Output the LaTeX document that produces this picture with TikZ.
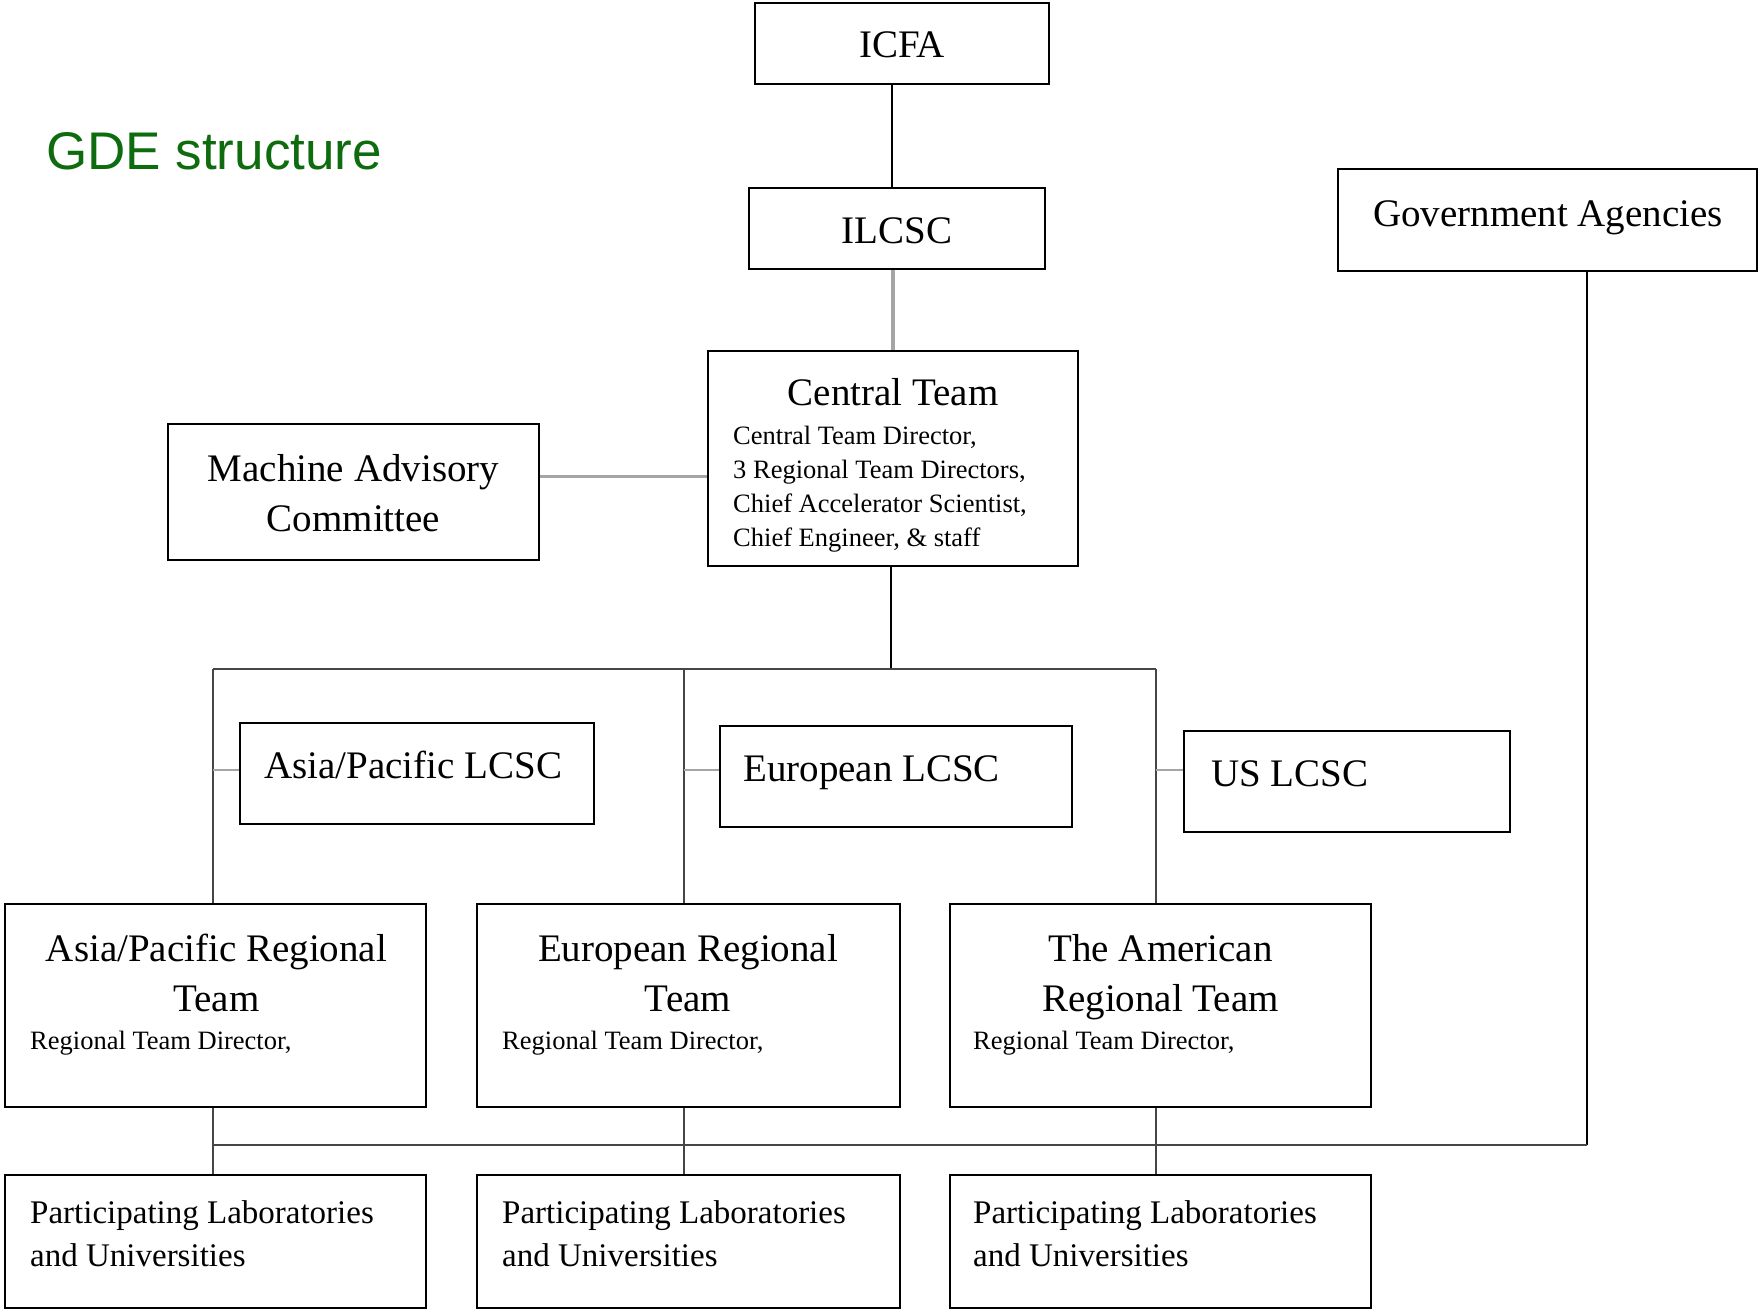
\documentclass[tikz,border=0pt]{standalone}
\usepackage{fontspec}
\setmainfont{Liberation Serif}
\newfontfamily\titlefont{Liberation Sans}
\definecolor{gdegreen}{RGB}{14,108,14}
\definecolor{lightline}{RGB}{165,165,165}
\definecolor{darkline}{RGB}{70,70,70}
\begin{document}
\begin{tikzpicture}[x=1pt,y=-1pt,
  box/.style={draw=black,line width=2pt,rectangle,inner sep=0pt,fill=white},
  bigtxt/.style={inner sep=0pt,font=\fontsize{39}{50}\selectfont},
  smalltxt/.style={inner sep=0pt,font=\fontsize{26.5}{34}\selectfont},
  labtxt/.style={inner sep=0pt,font=\fontsize{33}{43}\selectfont},
  conn/.style={draw=darkline,line width=2pt},
  blackconn/.style={draw=black,line width=2pt},
  gconn/.style={draw=lightline,line width=3.2pt}]
\useasboundingbox (0,0) rectangle (1758,1309);

% title
\node[anchor=base west,inner sep=0pt,text=gdegreen,font=\titlefont\fontsize{53}{60}\selectfont] (title) at (46,169) {GDE structure};

% boxes
\node[box,minimum width=294pt,minimum height=81pt] (icfa) at (902,43.5) {};
\node[box,minimum width=296pt,minimum height=81pt] (ilcsc) at (897,228) {};
\node[box,minimum width=370pt,minimum height=215pt] (ct) at (893,458.5) {};
\node[box,minimum width=371pt,minimum height=136pt] (mac) at (353.5,492) {};
\node[box,minimum width=419pt,minimum height=102pt] (gov) at (1547.5,220) {};

\node[box,minimum width=354pt,minimum height=101pt] (aplcsc) at (417,773) {};
\node[box,minimum width=352pt,minimum height=101pt] (eulcsc) at (896,776) {};
\node[box,minimum width=326pt,minimum height=101pt] (uslcsc) at (1347,781) {};

\node[box,minimum width=421pt,minimum height=203pt] (aprt) at (215.5,1005.5) {};
\node[box,minimum width=423pt,minimum height=203pt] (eurt) at (688,1005.5) {};
\node[box,minimum width=421pt,minimum height=203pt] (amrt) at (1160.5,1005.5) {};

\node[box,minimum width=421pt,minimum height=133pt] (apl) at (215.5,1241) {};
\node[box,minimum width=423pt,minimum height=133pt] (eul) at (688,1241) {};
\node[box,minimum width=421pt,minimum height=133pt] (aml) at (1160.5,1241) {};

% texts
\node[bigtxt,anchor=base] (ticfa) at (902,57) {ICFA};
\node[bigtxt,anchor=base] (tilcsc) at (897,243) {ILCSC};
\node[bigtxt,anchor=base] (tct) at (893,405.5) {Central Team};
\node[smalltxt,anchor=base west] (tct1) at (733,444) {Central Team Director,};
\node[smalltxt,anchor=base west] (tct2) at (733,478) {3 Regional Team Directors,};
\node[smalltxt,anchor=base west] (tct3) at (733,512) {Chief Accelerator Scientist,};
\node[smalltxt,anchor=base west] (tct4) at (733,546) {Chief Engineer, \& staff};
\node[bigtxt,anchor=base] (tmac1) at (353.5,481.5) {Machine Advisory};
\node[bigtxt,anchor=base] (tmac2) at (353.5,531.5) {Committee};
\node[bigtxt,anchor=base] (tgov) at (1548,226) {Government Agencies};

\node[bigtxt,anchor=base west] (tap) at (264,778) {Asia/Pacific LCSC};
\node[bigtxt,anchor=base west] (teu) at (743,781) {European LCSC};
\node[bigtxt,anchor=base west] (tus) at (1211,786) {US LCSC};

\node[bigtxt,anchor=base] (taprt1) at (216.5,961) {Asia/Pacific Regional};
\node[bigtxt,anchor=base] (taprt2) at (216.5,1011) {Team};
\node[smalltxt,anchor=base west] (taprt3) at (30,1049) {Regional Team Director,};
\node[bigtxt,anchor=base] (teurt1) at (688,961) {European Regional};
\node[bigtxt,anchor=base] (teurt2) at (688,1011) {Team};
\node[smalltxt,anchor=base west] (teurt3) at (502,1049) {Regional Team Director,};
\node[bigtxt,anchor=base] (tamrt1) at (1160.5,961) {The American};
\node[bigtxt,anchor=base] (tamrt2) at (1160.5,1011) {Regional Team};
\node[smalltxt,anchor=base west] (tamrt3) at (973,1049) {Regional Team Director,};

\node[labtxt,anchor=base west] (tapl1) at (30,1223.5) {Participating Laboratories};
\node[labtxt,anchor=base west] (tapl2) at (30,1266) {and Universities};
\node[labtxt,anchor=base west] (teul1) at (502,1223.5) {Participating Laboratories};
\node[labtxt,anchor=base west] (teul2) at (502,1266) {and Universities};
\node[labtxt,anchor=base west] (taml1) at (973,1223.5) {Participating Laboratories};
\node[labtxt,anchor=base west] (taml2) at (973,1266) {and Universities};

% helper coordinates
\coordinate (xa) at (892,0);
\coordinate (ymac) at (0,476.5);
\coordinate (xc) at (890.5,0);
\coordinate (b1) at (213,669);
\coordinate (b2) at (684,669);
\coordinate (b3) at (1155.5,669);
\coordinate (ys) at (0,770);
\coordinate (xg) at (1587,0);
\coordinate (l1) at (213,1145);
\coordinate (lg) at (1587,1145);

% connectors
\draw[blackconn] (icfa.south -| xa) -- (ilcsc.north -| xa);
\draw[gconn] (ilcsc.south -| ct.north) -- (ct.north);
\draw[gconn] (mac.east |- ymac) -- (ct.west |- ymac);
\draw[blackconn] (ct.south -| xc) -- (b2 -| xc);
\draw[conn] (b1) -- (b3);
\draw[conn] (b1) -- (aprt.north -| b1);
\draw[conn] (b2) -- (eurt.north -| b2);
\draw[conn] (b3) -- (amrt.north -| b3);
\draw[gconn,line width=2.6pt] (b1 |- ys) -- (aplcsc.west |- ys);
\draw[gconn,line width=2.6pt] (b2 |- ys) -- (eulcsc.west |- ys);
\draw[gconn,line width=2.6pt] (b3 |- ys) -- (uslcsc.west |- ys);
\draw[blackconn] (gov.south -| xg) -- (lg);
\draw[conn] (l1) -- (lg);
\draw[conn] (aprt.south -| b1) -- (apl.north -| b1);
\draw[conn] (eurt.south -| b2) -- (eul.north -| b2);
\draw[conn] (amrt.south -| b3) -- (aml.north -| b3);
\end{tikzpicture}
\end{document}
